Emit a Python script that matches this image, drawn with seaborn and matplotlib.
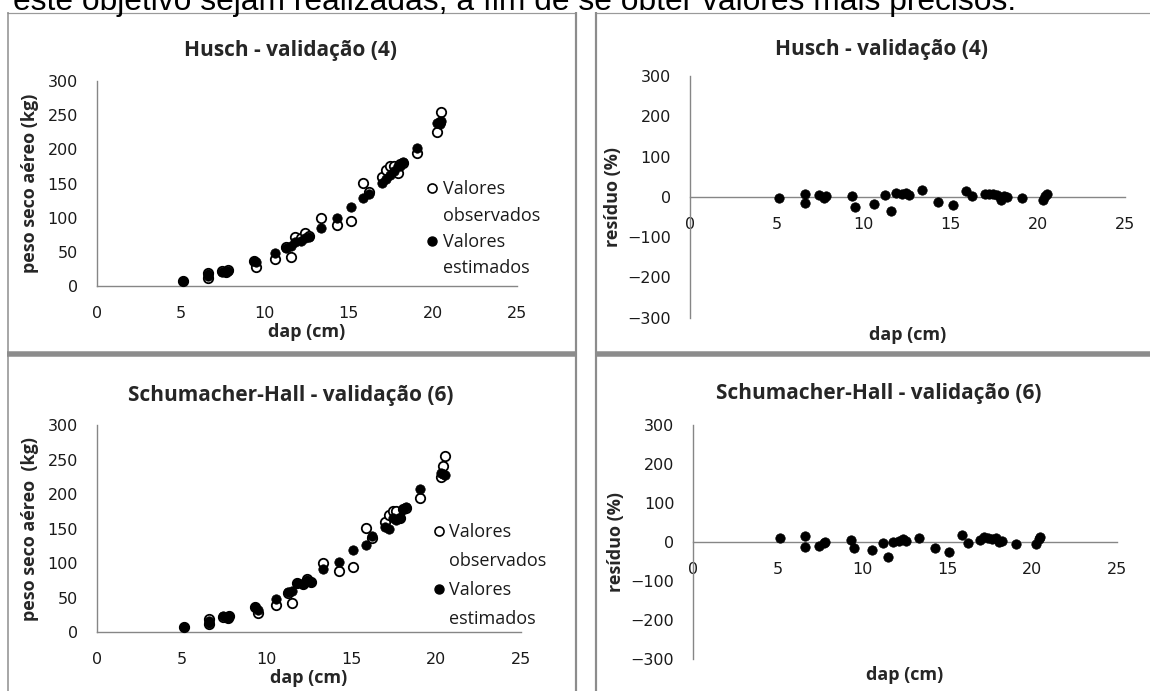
import matplotlib
matplotlib.use("Agg")
import matplotlib.pyplot as plt
import seaborn as sns
import numpy as np
import pandas as pd
from matplotlib.lines import Line2D

# ---------------- data ----------------
dap = [5.14, 6.62, 6.62, 7.42, 7.71, 7.80, 9.34, 9.48, 10.58, 11.24, 11.53,
       11.82, 12.17, 12.41, 12.60, 13.32, 14.28, 15.10, 15.85, 16.23, 16.96,
       17.20, 17.43, 17.66, 17.90, 18.05, 18.24, 19.06, 20.27, 20.40, 20.50]
observado = [7, 19, 12, 22, 20, 23, 37, 28, 40, 57, 43, 72, 70, 77, 73, 100,
             89, 95, 151, 137, 160, 170, 176, 175, 165, 178, 180, 195, 225,
             240, 255]
estimado_husch = [7.5, 17.5, 14, 21, 21, 22.5, 36, 35, 48, 55, 58, 64, 66, 70,
                  71, 85, 100, 115, 129, 135, 151, 157, 163, 168, 175, 176,
                  181, 202, 238, 237, 242]
estimado_sh = [7, 17, 14, 24, 21, 23, 36, 32, 48, 58, 60, 72, 70, 76, 73, 91,
               102, 119, 126, 139, 152, 150, 165, 162, 166, 178, 181, 207,
               231, 229, 228]
residuo_husch = [-4, 8, -15, 4, -4, 2, 2, -25, -18, 4, -35, 10, 7, 10, 4, 16,
                 -12, -21, 15, 2, 7, 7, 7, 4, -7, 2, 0, -4, -8, 2, 8]
residuo_sh = [11, 15, -13, -10, -2, 0, 4, -15, -21, -2, -39, 0, 2, 7, 3, 11,
              -15, -26, 19, -2, 6, 13, 10, 8, 10, 0, 2, -6, -4, 7, 13]

titulos = ["Husch - validação (4)", "Schumacher-Hall - validação (6)"]
ylabels_peso = ["peso seco aéreo (kg)", "peso seco aéreo  (kg)"]
ylabel_res = "resíduo (%)"
xlabel = "dap (cm)"
leg_obs = ["Valores", "observados"]
leg_est = ["Valores", "estimados"]
texto_topo = "este objetivo sejam realizadas, a fim de se obter valores mais precisos."
xticks = [0, 5, 10, 15, 20, 25]
yticks_peso = [0, 50, 100, 150, 200, 250, 300]
yticks_res = [-300, -200, -100, 0, 100, 200, 300]

df = pd.DataFrame({"dap": dap, "obs": observado, "est_h": estimado_husch,
                   "est_sh": estimado_sh, "res_h": residuo_husch,
                   "res_sh": residuo_sh})

# ---------------- style ----------------
sns.set_style("white")
plt.rcParams['font.family'] = ['Open Sans', 'DejaVu Sans']

W, H = 1150, 691
fig = plt.figure(figsize=(W / 100, H / 100), dpi=100)
fig.patch.set_facecolor("white")


def rect(l, t, r, b):
    return [l / W, 1 - b / H, (r - l) / W, (b - t) / H]


AXC = "#868686"
TICKFONT = dict(family="DejaVu Sans", size=11.5)


def style_axes(ax):
    for s in ["top", "right"]:
        ax.spines[s].set_visible(False)
    for s in ["left", "bottom"]:
        ax.spines[s].set_color(AXC)
        ax.spines[s].set_linewidth(1.0)
    ax.tick_params(axis="both", direction="out", length=5, width=1.0,
                   color=AXC, labelcolor="#1a1a1a")
    ax.tick_params(axis="x", pad=9.5)
    ax.tick_params(axis="y", pad=8.5)
    for lab in ax.get_xticklabels() + ax.get_yticklabels():
        lab.set_fontfamily(TICKFONT["family"])
        lab.set_fontsize(TICKFONT["size"])
    ax.set_facecolor("none")
    ax.grid(False)


S = 46


def peso_panel(ax, est_col, title, ylab, tx, ty, leg_anchor, leg_space):
    sns.scatterplot(data=df, x="dap", y="obs", ax=ax, marker="o", s=S,
                    color="white", edgecolor="black", linewidth=1.3,
                    clip_on=False, zorder=3)
    sns.scatterplot(data=df, x="dap", y=est_col, ax=ax, marker="o", s=S,
                    color="black", edgecolor="black", linewidth=0.5,
                    clip_on=False, zorder=4)
    ax.set_xlim(0, 25)
    ax.set_ylim(0, 300)
    ax.set_xticks(xticks)
    ax.set_yticks(yticks_peso)
    style_axes(ax)
    ax.set_xlabel(xlabel, fontsize=13, fontweight="bold", labelpad=1)
    ax.set_ylabel(ylab, fontsize=13, fontweight="bold", labelpad=6)
    ax.text(tx, ty, title, transform=ax.transAxes, ha="center", va="center",
            fontsize=15, fontweight="bold")
    h_obs = Line2D([], [], linestyle="none", marker="o", markersize=6.5,
                   markerfacecolor="white", markeredgecolor="black",
                   markeredgewidth=1.2)
    h_est = Line2D([], [], linestyle="none", marker="o", markersize=6.5,
                   markerfacecolor="black", markeredgecolor="black")
    h_none = Line2D([], [], linestyle="none", marker=None)
    leg = ax.legend([h_obs, h_none, h_est, h_none],
                    [leg_obs[0], leg_obs[1], leg_est[0], leg_est[1]],
                    loc="upper left", bbox_to_anchor=leg_anchor,
                    frameon=False, fontsize=13, handlelength=0.6,
                    handletextpad=0.3, labelspacing=leg_space, borderpad=0,
                    borderaxespad=0)
    for t in leg.get_texts():
        t.set_color("#1a1a1a")


def res_panel(ax, res_col, title, tx, ty, xl_y):
    sns.scatterplot(data=df, x="dap", y=res_col, ax=ax, marker="o", s=S,
                    color="black", edgecolor="black", linewidth=0.5,
                    clip_on=False, zorder=4)
    ax.set_xlim(0, 25)
    ax.set_ylim(-300, 300)
    ax.set_xticks(xticks)
    ax.set_yticks(yticks_res)
    ax.spines["bottom"].set_position(("data", 0))
    style_axes(ax)
    ax.set_xlabel(xlabel, fontsize=13, fontweight="bold")
    ax.xaxis.set_label_coords(0.5, xl_y)
    ax.set_ylabel(ylabel_res, fontsize=13, fontweight="bold", labelpad=4)
    ax.text(tx, ty, title, transform=ax.transAxes, ha="center", va="center",
            fontsize=15, fontweight="bold")


ax1 = fig.add_axes(rect(96.9, 81, 516.8, 286))
peso_panel(ax1, "est_h", titulos[0], ylabels_peso[0], 0.462, 1.151,
           (0.785, 0.516), 0.46)
ax2 = fig.add_axes(rect(689.8, 76, 1125, 317.7))
res_panel(ax2, "res_h", titulos[0], 0.4416, 1.1076, -0.034)
ax3 = fig.add_axes(rect(96.9, 425, 520.9, 632.3))
peso_panel(ax3, "est_sh", titulos[1], ylabels_peso[1], 0.458, 1.1447,
           (0.793, 0.526), 0.6)
ax4 = fig.add_axes(rect(693, 425, 1116.6, 659))
res_panel(ax4, "res_sh", titulos[1], 0.439, 1.1355, -0.03)

# ---------------- document frame lines ----------------
FR = "#8c8c8c"


def hline(y, x0, x1, lw_px, c=FR):
    fig.add_artist(Line2D([x0 / W, x1 / W], [1 - y / H, 1 - y / H],
                          transform=fig.transFigure, color=c,
                          linewidth=lw_px * 0.72, solid_capstyle="butt"))


def vline(x, y0, y1, lw_px, c=FR):
    fig.add_artist(Line2D([x / W, x / W], [1 - y0 / H, 1 - y1 / H],
                          transform=fig.transFigure, color=c,
                          linewidth=lw_px * 0.72, solid_capstyle="butt"))


hline(12.5, 7, 575, 1.2, "#9a9a9a")
hline(12.5, 596, 1150, 1.2, "#9a9a9a")
vline(7.5, 12, 691, 1.5)
vline(575.5, 12, 691, 2.2)
vline(596, 12, 691, 2.2)
hline(354.5, 7, 575, 5.5)
hline(354.5, 596, 1150, 5.5)

# ---------------- clipped document text on top ----------------
fig.text(13 / W, 1 - 10 / H, texto_topo, ha="left", va="baseline",
         fontsize=22.9, family="Liberation Sans", color="black")

fig.savefig("out.png", dpi=100, facecolor="white")
